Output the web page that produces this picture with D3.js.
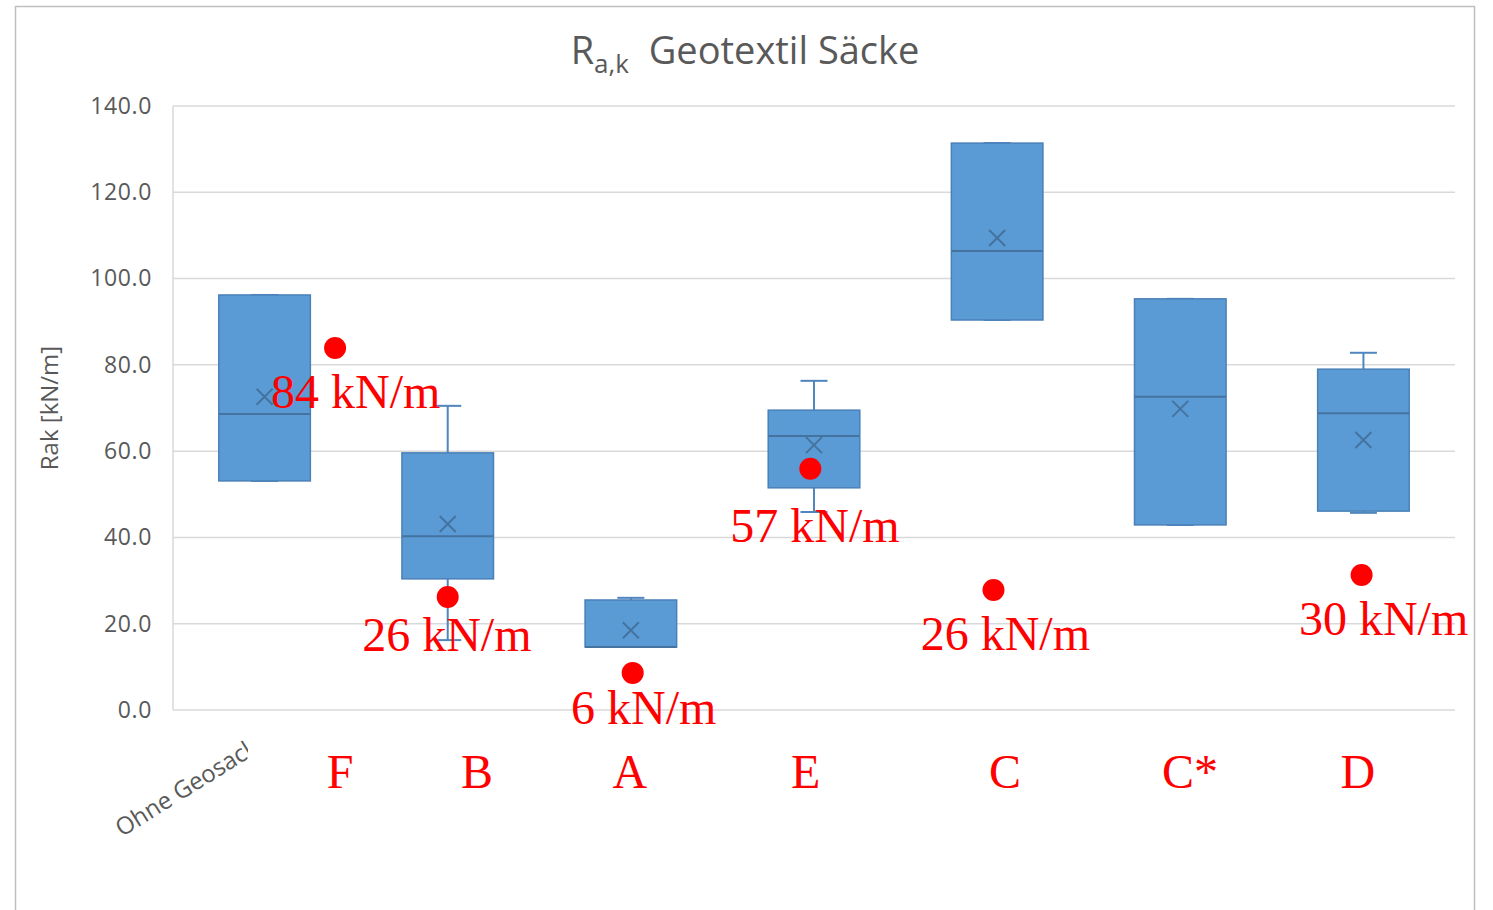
<!DOCTYPE html>
<html><head><meta charset="utf-8">
<script src="https://cdn.jsdelivr.net/npm/d3@7"></script>
<style>html,body{margin:0;padding:0;background:#fff;}svg{display:block;}</style>
</head><body>
<svg id="c" width="1493" height="910"></svg>
<script>
// ---- data ----
const seriesNames = ["Ohne Geosack", "F", "B", "A", "E", "C", "D"];
const axisCategory = ["Ohne Geosack"];
const boxMin    = [53.1, 16.2, 14.6, 45.9,  90.4, 42.9, 45.7];
const boxQ1     = [53.1, 30.4, 14.6, 51.5,  90.4, 42.9, 46.1];
const boxMedian = [68.6, 40.3, 14.6, 63.5, 106.4, 72.6, 68.8];
const boxQ3     = [96.2, 59.6, 25.5, 69.5, 131.4, 95.3, 79.0];
const boxMax    = [96.2, 70.5, 26.0, 76.3, 131.4, 95.3, 82.8];
const boxMean   = [72.6, 43.1, 18.5, 61.4, 109.4, 69.8, 62.6];
const yTicks = [0, 20, 40, 60, 80, 100, 120, 140];

// red annotation points (slot position, value)
const dotSlot   = [0.885, 1.50, 2.51, 3.48, 4.48, 6.49];
const dotValue  = [83.9, 26.2, 8.6, 55.9, 27.8, 31.3];
const dotLabel  = ["84 kN/m", "26 kN/m", "6 kN/m", "57 kN/m", "26 kN/m", "30 kN/m"];
const dotLabelSlot  = [0.998, 1.495, 2.57, 3.505, 4.545, 6.61];
const dotLabelValue = [70.0, 13.6, -3.3, 38.9, 14.0, 17.5];
// red category letters (slot position, value)
const letterText  = ["F", "B", "A", "E", "C", "C*", "D"];
const letterSlot  = [0.912, 1.66, 2.495, 3.455, 4.543, 5.553, 6.47];
const letterValue = -18.0;

// ---- layout ----
const svg = d3.select("#c");
const L = 173, R = 1455, T = 106, B = 710;
const x = d3.scaleLinear().domain([0, seriesNames.length]).range([L, R]);
const y = d3.scaleLinear().domain([0, 140]).range([B, T]);
const slotW = x(1) - x(0);
const boxW = slotW * 0.5;
const capW = 27;

svg.append("rect").attr("x", 15.5).attr("y", 6.5).attr("width", 1459).attr("height", 1000)
  .attr("fill", "#fff").attr("stroke", "#bfbfbf").attr("stroke-width", 1.5);

// gridlines
svg.append("g").selectAll("line").data(yTicks).join("line")
  .attr("x1", L).attr("x2", R).attr("y1", d => y(d)).attr("y2", d => y(d))
  .attr("stroke", "#d9d9d9").attr("stroke-width", 1.5);
svg.append("line").attr("x1", L).attr("x2", L).attr("y1", T).attr("y2", B)
  .attr("stroke", "#d9d9d9").attr("stroke-width", 1.5);

// y axis
const yAxis = d3.axisLeft(y).tickValues(yTicks).tickFormat(d3.format(".1f")).tickSize(0).tickPadding(21);
const ga = svg.append("g").attr("transform", `translate(${L},0)`).call(yAxis);
ga.select(".domain").remove();
ga.selectAll("text").attr("font-family", "Open Sans").attr("font-size", 23)
  .attr("letter-spacing", 0.6).attr("fill", "#595959");

svg.append("text").attr("transform", `translate(58,${(T + B) / 2}) rotate(-90)`)
  .attr("text-anchor", "middle").attr("font-family", "Open Sans").attr("font-size", 24)
  .attr("fill", "#595959").text("Rak [kN/m]");

// title
const title = svg.append("text").attr("x", 745).attr("y", 64).attr("text-anchor", "middle")
  .attr("font-family", "Open Sans").attr("font-size", 38).attr("fill", "#595959");
title.append("tspan").text("R");
title.append("tspan").attr("font-size", 26).attr("dy", 9).text("a,k");
title.append("tspan").attr("dy", -9).text("\u00a0 Geotextil Säcke");

// boxes
const boxes = svg.append("g").selectAll("g").data(seriesNames.map((n, i) => i)).join("g");
const cx = i => x(i + 0.5);
boxes.append("line").attr("x1", cx).attr("x2", cx)
  .attr("y1", i => y(boxQ3[i])).attr("y2", i => y(boxMax[i])).attr("stroke", "#4f86bd").attr("stroke-width", 2);
boxes.append("line").attr("x1", cx).attr("x2", cx)
  .attr("y1", i => y(boxQ1[i])).attr("y2", i => y(boxMin[i])).attr("stroke", "#4f86bd").attr("stroke-width", 2);
boxes.append("line").attr("x1", i => cx(i) - capW / 2).attr("x2", i => cx(i) + capW / 2)
  .attr("y1", i => y(boxMax[i])).attr("y2", i => y(boxMax[i])).attr("stroke", "#4f86bd").attr("stroke-width", 2);
boxes.append("line").attr("x1", i => cx(i) - capW / 2).attr("x2", i => cx(i) + capW / 2)
  .attr("y1", i => y(boxMin[i])).attr("y2", i => y(boxMin[i])).attr("stroke", "#4f86bd").attr("stroke-width", 2);
boxes.append("rect").attr("x", i => cx(i) - boxW / 2).attr("width", boxW)
  .attr("y", i => y(boxQ3[i])).attr("height", i => y(boxQ1[i]) - y(boxQ3[i]))
  .attr("fill", "#5b9bd5").attr("stroke", "#4a80b8").attr("stroke-width", 1.5);
boxes.append("line").attr("x1", i => cx(i) - boxW / 2).attr("x2", i => cx(i) + boxW / 2)
  .attr("y1", i => y(boxMedian[i])).attr("y2", i => y(boxMedian[i])).attr("stroke", "#44739f").attr("stroke-width", 2);
const m = 8;
boxes.append("path").attr("d", i => {
  const px = cx(i), py = y(boxMean[i]);
  return `M${px - m},${py - m}L${px + m},${py + m}M${px - m},${py + m}L${px + m},${py - m}`;
}).attr("stroke", "#44739f").attr("stroke-width", 2).attr("fill", "none");

// category axis label (rotated, clipped)
svg.append("clipPath").attr("id", "clipCat").append("rect")
  .attr("x", 0).attr("y", 700).attr("width", x(0.41)).attr("height", 200);
svg.append("g").attr("clip-path", "url(#clipCat)")
  .append("text").attr("transform", `translate(${x(0) - 51},${y(-29.5)}) rotate(-32)`)
  .attr("font-family", "Open Sans").attr("font-size", 24).attr("fill", "#595959")
  .text(axisCategory[0]);

// red annotations
svg.append("g").selectAll("circle").data(dotValue).join("circle")
  .attr("cx", (d, i) => x(dotSlot[i])).attr("cy", d => y(d)).attr("r", 11).attr("fill", "#ff0000");
svg.append("g").selectAll("text").data(dotLabel).join("text")
  .attr("x", (d, i) => x(dotLabelSlot[i])).attr("y", (d, i) => y(dotLabelValue[i]))
  .attr("text-anchor", "middle").attr("font-family", "Liberation Serif").attr("font-size", 48)
  .attr("fill", "#ff0000").text(d => d);
svg.append("g").selectAll("text").data(letterText).join("text")
  .attr("x", (d, i) => x(letterSlot[i])).attr("y", y(letterValue))
  .attr("text-anchor", "middle").attr("font-family", "Liberation Serif").attr("font-size", 48)
  .attr("fill", "#ff0000").text(d => d);
</script>
</body></html>
